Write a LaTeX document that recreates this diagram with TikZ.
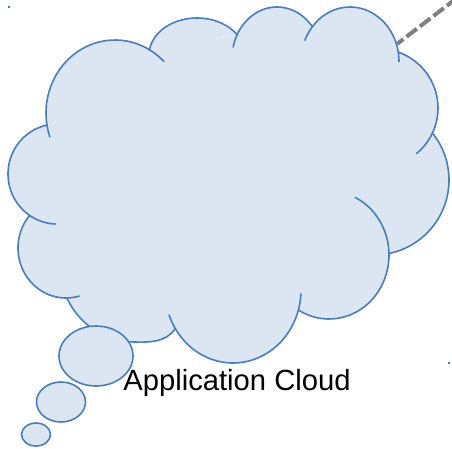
\documentclass[tikz,border=0pt]{standalone}
\usepackage{fontspec}
\setmainfont{Liberation Sans}
\usetikzlibrary{shapes.geometric}

\definecolor{cloudfill}{HTML}{DCE6F2}
\definecolor{cloudedge}{HTML}{4A7EBB}
\definecolor{linkgray}{HTML}{7F7F7F}

\tikzset{
    lobefill/.style={fill=cloudfill, draw=none},
    lobeline/.style={draw=cloudedge, line width=1.6pt, line cap=round},
    bubble/.style={ellipse, draw=cloudedge, fill=cloudfill, line width=1.6pt, inner sep=0pt},
    speck/.style={rectangle, fill=cloudedge, inner sep=0pt, minimum size=2pt},
    linkdash/.style={draw=linkgray, line width=4pt, dash pattern=on 13pt off 4pt, dash phase=5pt},
}

% centre x, centre y, x radius, y radius, from angle, to angle
\newcommand{\lobe}[6]{plot[domain=#5:#6,samples=40] ({#1+#3*cos(\x)},{#2+#4*sin(\x)})}

\newcommand{\cloudlobes}[1]{
    \path[#1]
        \lobe{57}{174}{49}{50}{258}{92}
        \lobe{115}{113}{69}{73}{161}{315}
        \lobe{197}{55}{48}{37}{187}{327}
        \lobe{277}{58.6}{45}{51.6}{193}{321}
        \lobe{350}{61.6}{49}{54.6}{203}{360}
        \lobe{378}{108}{60}{59.4}{289.5}{410}
        \lobe{374}{180}{75}{75}{322}{438.5}
        \lobe{329}{255}{60}{64}{296}{480}
        \lobe{233}{290}{68}{73}{3}{160}
        \lobe{135}{266}{75}{76}{155}{90} .. controls (150,342.5) and (166,342) .. (175,329)
        \lobe{66}{248}{48}{50}{220}{74};
}

\begin{document}
\begin{tikzpicture}[x=1pt,y=-1pt]
    \useasboundingbox (0,0) rectangle (452,448);

    \coordinate (linkstart) at (397,44);
    \coordinate (linkend) at (453,1);
    \draw[linkdash] (linkstart) -- (linkend);

    \fill[cloudfill] (29,216) -- (47,125) -- (150,50) -- (237,35) -- (312,26) -- (398,52) -- (433,134)
        -- (389,255) -- (299,310) -- (175,329) -- (128,342) -- (91,326) -- (67,298) -- cycle;
    \cloudlobes{lobefill}
    \cloudlobes{lobeline}

    \node[bubble, minimum width=74pt, minimum height=60pt] (bubblebig) at (96,356) {};
    \node[bubble, minimum width=49pt, minimum height=40pt] (bubblemid) at (61,402) {};
    \node[bubble, minimum width=29pt, minimum height=23pt] (bubblesmall) at (36,434.5) {};

    \node[speck] (specktop) at (9,7) {};
    \node[speck] (speckright) at (449,363) {};

    \node[font=\fontsize{29.2}{34}\selectfont, inner sep=0pt] (cloudlabel) at (237,383) {Application Cloud};
\end{tikzpicture}
\end{document}
